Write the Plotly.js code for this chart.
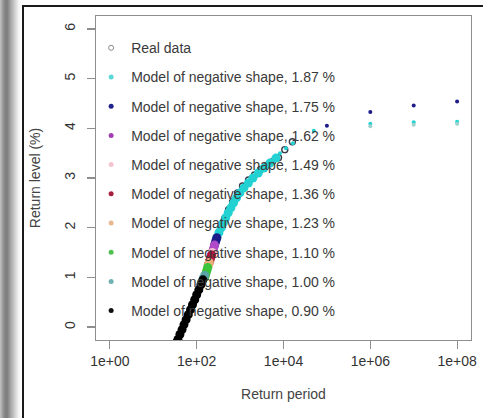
<!DOCTYPE html>
<html>
<head>
<meta charset="utf-8">
<script src="https://cdn.plot.ly/plotly-3.0.1.min.js"></script>
<style>
html,body{margin:0;padding:0;background:#fff;width:483px;height:418px;overflow:hidden;}
#strip{position:absolute;left:0;top:0;width:22px;height:418px;
 background:linear-gradient(to right,#c4c4c4 0px,#8a8a8a 4px,#7c7c7c 7px,#a8a8a8 11px,#dcdcdc 16px,#f6f6f6 19px,#ffffff 21px);}
#vline{position:absolute;left:22px;top:5px;width:2px;height:413px;background:#1a1a1a;}
#hline{position:absolute;left:22px;top:5px;width:461px;height:2px;background:#1a1a1a;}
#chart{position:absolute;left:24px;top:7px;width:459px;height:411px;}
</style>
</head>
<body>
<div id="strip"></div>
<div id="vline"></div>
<div id="hline"></div>
<div id="chart"></div>
<script>
// ---- data (return period, return level %) ----
const xTickVals = [1, 100, 1e4, 1e6, 1e8];
const xTickText = ['1e+00', '1e+02', '1e+04', '1e+06', '1e+08'];
const yTickVals = [0, 1, 2, 3, 4, 5, 6];

const T_real  = [137, 178, 231, 286, 354, 438, 542, 669, 873, 1137, 1565, 2150, 2955, 4065, 5590, 7680, 10700, 16000];
const RL_real = [0.95, 1.25, 1.55, 1.75, 1.98, 2.18, 2.36, 2.52, 2.70, 2.84, 2.96, 3.06, 3.17, 3.25, 3.33, 3.41, 3.57, 3.73];

const T_187  = [292, 325, 369, 412, 466, 532, 614, 708, 826, 989, 1224, 1553, 1972, 2630, 3535, 4860, 6680];
const RL_187 = [1.80, 1.90, 2.00, 2.10, 2.20, 2.30, 2.40, 2.50, 2.60, 2.70, 2.80, 2.90, 3.00, 3.10, 3.20, 3.30, 3.40];
const T_187_ext  = [8300, 11350, 16500, 50000, 1e6, 1e7, 1e8];
const RL_187_ext = [3.50, 3.60, 3.70, 3.95, 4.09, 4.12, 4.13];

const T_175  = [258, 269, 280, 292];
const RL_175 = [1.65, 1.70, 1.75, 1.80];
const T_175_ext  = [1e5, 1e6, 1e7, 1e8];
const RL_175_ext = [4.05, 4.33, 4.46, 4.54];

const T_162  = [225, 236, 249, 258];
const RL_162 = [1.48, 1.53, 1.60, 1.65];

const T_149  = [220, 229];
const RL_149 = [1.45, 1.50];

const T_136  = [195, 203, 211, 220];
const RL_136 = [1.30, 1.35, 1.40, 1.45];

const T_123  = [183, 190, 195];
const RL_123 = [1.22, 1.27, 1.30];

const T_110  = [153, 160, 166, 173, 179];
const RL_110 = [1.00, 1.05, 1.10, 1.15, 1.20];

const T_100  = [130, 142, 153];
const RL_100 = [0.90, 0.98, 1.04];
const T_100_ext  = [1e6, 1e7, 1e8];
const RL_100_ext = [4.04, 4.07, 4.09];

const T_090  = [35, 37, 41, 46, 51, 57, 64, 72, 80, 90, 100, 112, 125, 139];
const RL_090 = [-0.30, -0.25, -0.15, -0.05, 0.05, 0.15, 0.25, 0.35, 0.45, 0.55, 0.65, 0.75, 0.85, 0.95];

const names = ['Real data',
  'Model of negative shape, 1.87 %', 'Model of negative shape, 1.75 %',
  'Model of negative shape, 1.62 %', 'Model of negative shape, 1.49 %',
  'Model of negative shape, 1.36 %', 'Model of negative shape, 1.23 %',
  'Model of negative shape, 1.10 %', 'Model of negative shape, 1.00 %',
  'Model of negative shape, 0.90 %'];

// ---- styles ----
const cols = ['#3a3a4a', '#22d2d2', '#1c1c8a', '#b04ac8', '#f6bcd0',
              '#b5123a', '#eab07a', '#3cc43c', '#5aa6a6', '#000000'];
const legCols = ['#8a8a8a', '#5cd6d6', '#22228c', '#a040b0', '#f4c4d0',
                 '#a82040', '#e8b890', '#50c050', '#70b0b0', '#111111'];

const band = 9;
function pts(x, y, c, s, sym, lw) {
  return {type: 'scatter', mode: 'markers', x: x, y: y, showlegend: false, hoverinfo: 'skip',
    marker: {color: c, size: s, symbol: sym || 'circle', line: {width: lw || 0, color: c}}};
}

const traces = [];
traces.push(pts(T_real, RL_real, cols[0], 6, 'circle-open', 1.4));
traces.push(pts(T_187, RL_187, cols[1], band));
traces.push(pts(T_187_ext, RL_187_ext, cols[1], 4));
traces.push(pts(T_175, RL_175, cols[2], band));
traces.push(pts(T_175_ext, RL_175_ext, cols[2], 4));
traces.push(pts(T_162, RL_162, cols[3], band));
traces.push(pts(T_149, RL_149, cols[4], band));
traces.push(pts(T_136, RL_136, cols[5], band));
traces.push(pts(T_123, RL_123, cols[6], band));
traces.push(pts(T_110, RL_110, cols[7], band));
traces.push(pts(T_100, RL_100, cols[8], band));
traces.push(pts(T_100_ext, RL_100_ext, '#9fd0cc', 4));
traces.push(pts(T_090, RL_090, cols[9], band));

names.forEach((n, i) => {
  traces.push({type: 'scatter', mode: 'markers', x: [null], y: [null], name: n,
    legendgroup: 'g' + i, showlegend: true, hoverinfo: 'skip',
    marker: i === 0 ? {symbol: 'circle-open', size: 5, color: legCols[i], line: {width: 1, color: legCols[i]}}
                    : {symbol: 'circle', size: 5, color: legCols[i]}});
});

const axisCommon = {
  showline: true, mirror: true, linecolor: '#8e8e8e', linewidth: 1.2,
  ticks: 'outside', ticklen: 8, tickcolor: '#8e8e8e', tickwidth: 1.2,
  showgrid: false, zeroline: false,
  tickfont: {family: 'Liberation Sans, Arial, sans-serif', size: 14, color: '#333'}
};

const layout = {
  width: 459, height: 411,
  margin: {l: 72, r: 12, t: 9, b: 78},
  paper_bgcolor: '#fff', plot_bgcolor: '#fff',
  font: {family: 'Liberation Sans, Arial, sans-serif', size: 14, color: '#333'},
  showlegend: true,
  legend: {x: -0.013, xanchor: 'left', y: 0.95, yanchor: 'top',
    bgcolor: 'rgba(0,0,0,0)', borderwidth: 0, tracegroupgap: 8,
    font: {family: 'Liberation Sans, Arial, sans-serif', size: 14, color: '#3a3a3a'}},
  xaxis: Object.assign({}, axisCommon, {
    type: 'log', range: [-0.32, 8.32],
    tickmode: 'array', tickvals: xTickVals, ticktext: xTickText,
    title: {text: 'Return period', standoff: 21,
      font: {family: 'Liberation Sans, Arial, sans-serif', size: 14, color: '#444'}}
  }),
  yaxis: Object.assign({}, axisCommon, {
    range: [-0.26, 6.26], tickmode: 'array', tickvals: yTickVals,
    tickangle: -90, ticklabelstandoff: 6,
    title: {text: 'Return level (%)', standoff: 18,
      font: {family: 'Liberation Sans, Arial, sans-serif', size: 14, color: '#444'}}
  })
};

Plotly.newPlot('chart', traces, layout, {displayModeBar: false, staticPlot: true});
</script>
</body>
</html>
